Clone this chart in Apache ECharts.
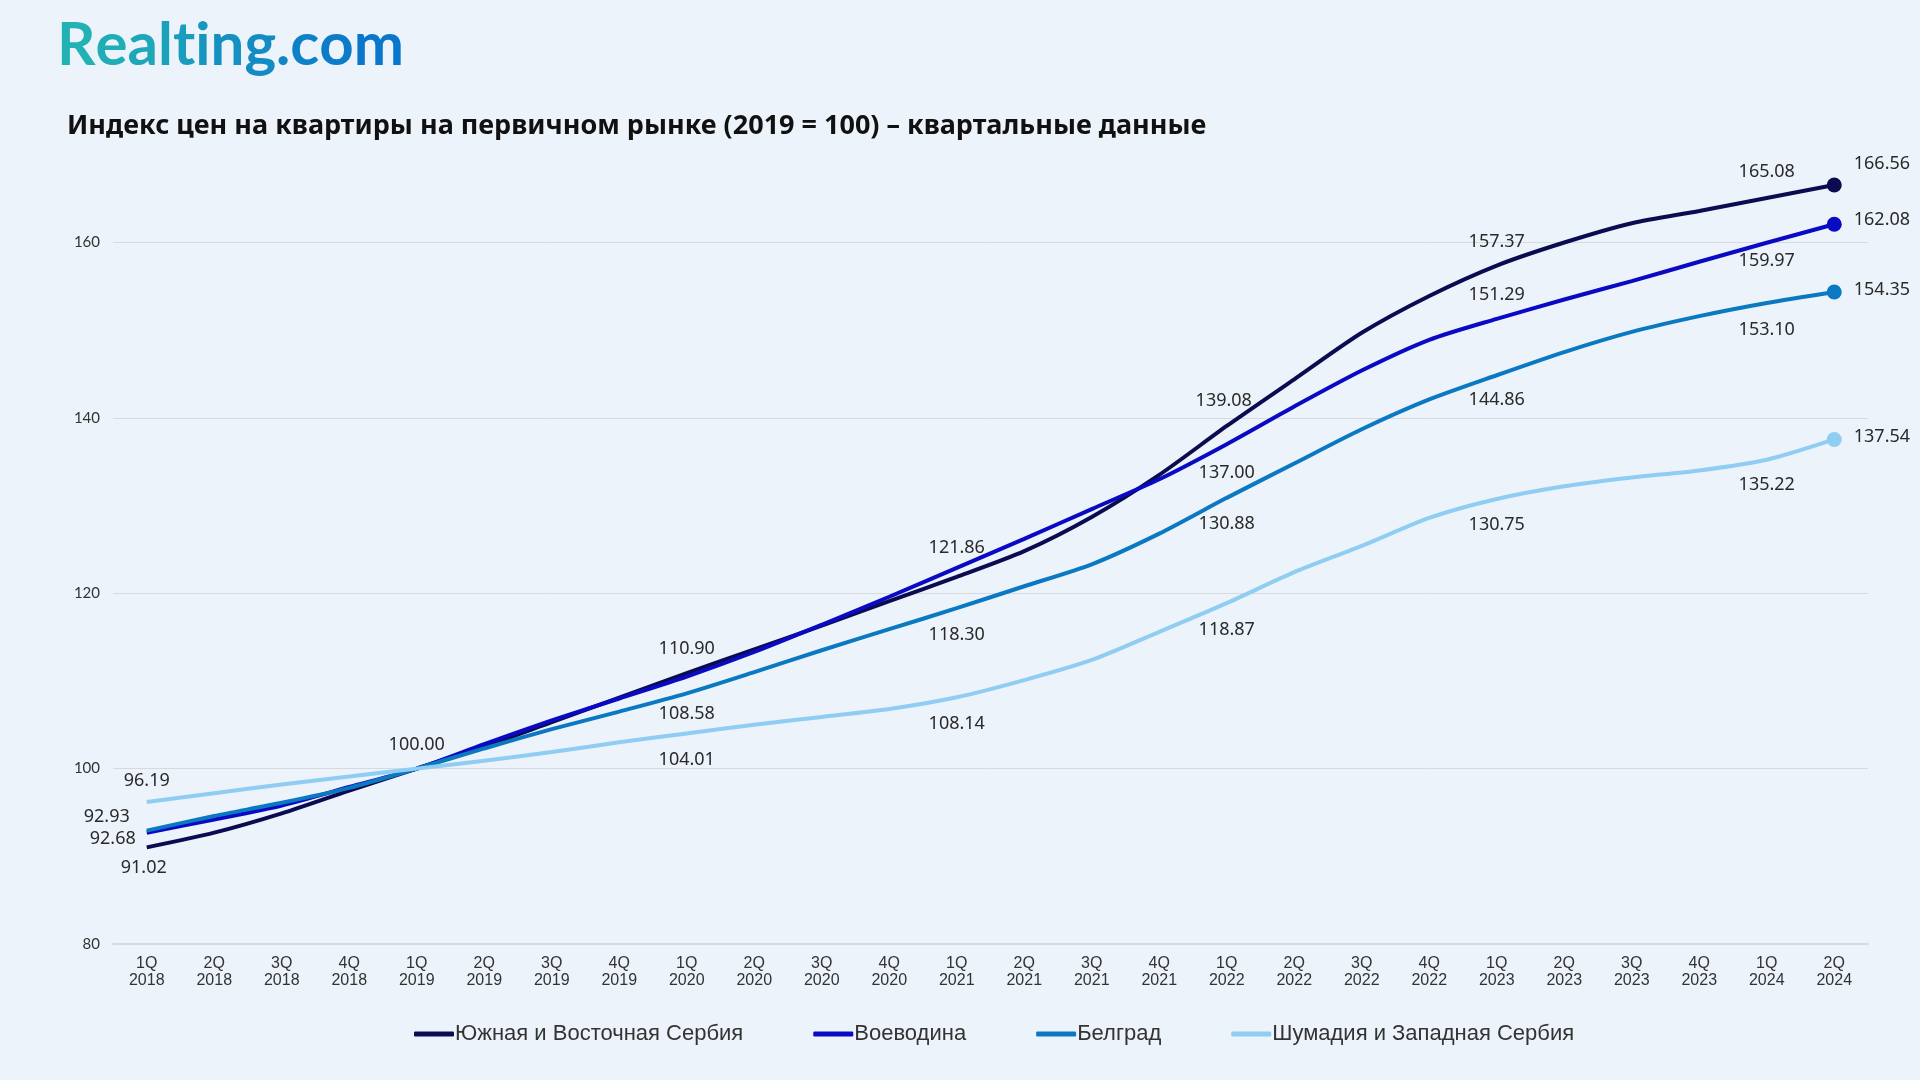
<!DOCTYPE html>
<html>
<head>
<meta charset="utf-8">
<script src="https://cdn.jsdelivr.net/npm/echarts@6/dist/echarts.min.js"></script>
<style>
html,body{margin:0;padding:0;background:#edf3fa;}
#chart{width:1920px;height:1080px;}
</style>
</head>
<body>
<div id="chart"></div>
<script>
const categories = ["1Q 2018","2Q 2018","3Q 2018","4Q 2018","1Q 2019","2Q 2019","3Q 2019","4Q 2019","1Q 2020","2Q 2020","3Q 2020","4Q 2020","1Q 2021","2Q 2021","3Q 2021","4Q 2021","1Q 2022","2Q 2022","3Q 2022","4Q 2022","1Q 2023","2Q 2023","3Q 2023","4Q 2023","1Q 2024","2Q 2024"];
const seriesNames = ["Южная и Восточная Сербия","Воеводина","Белград","Шумадия и Западная Сербия"];
const southEast = [91.02,92.7,94.9,97.5,100.00,102.5,105.3,108.1,110.90,113.6,116.3,119.1,121.86,124.8,128.7,133.5,139.08,144.4,149.7,153.9,157.37,160.0,162.2,163.6,165.08,166.56];
const vojvodina = [92.68,94.2,95.8,97.9,100.00,102.8,105.5,108.0,110.5,113.3,116.4,119.6,122.9,126.2,129.6,133.0,137.00,141.3,145.4,148.9,151.29,153.5,155.6,157.8,159.97,162.08];
const belgrade = [92.93,94.6,96.1,97.8,100.00,102.3,104.5,106.5,108.58,111.0,113.5,115.9,118.30,120.8,123.3,126.8,130.88,134.8,138.7,142.1,144.86,147.5,149.8,151.6,153.10,154.35];
const sumadija = [96.19,97.2,98.2,99.1,100.00,100.9,101.9,103.0,104.01,105.0,105.9,106.8,108.14,110.1,112.4,115.6,118.87,122.4,125.4,128.6,130.75,132.2,133.2,134.0,135.22,137.54];
const yTicks = [80,100,120,140,160];

const colors = ["#0b0b52","#0a0ac4","#0b78c2","#8fcdf3"];
const seriesValues = [southEast, vojvodina, belgrade, sumadija];

// label placement per series: dataIndex -> [position, distance, offsetX, offsetY]
const labelPlacement = [
  {0:['bottom',12,-3,0],4:['top',15,0,0],8:['top',15,0,0],12:['top',20,0,0],16:['top',16,-3,0],20:['top',15,0,0],24:['top',17,0,0],25:['right',12,0,-21]},
  {0:['left',11,0,6],16:['bottom',20,0,0],20:['top',15,0,0],24:['bottom',9,0,0],25:['right',12,0,-4]},
  {0:['left',17,0,-14],8:['bottom',11,0,0],12:['bottom',18,0,0],16:['bottom',17,0,0],20:['bottom',16,0,0],24:['bottom',18,0,0],25:['right',12,0,-2]},
  {0:['top',12,0,0],8:['bottom',17,0,0],12:['bottom',18,0,0],16:['bottom',18,0,0],20:['bottom',17,0,0],24:['bottom',16,0,0],25:['right',12,0,-3]}
];

const labelFont = {fontFamily:'Noto Sans', fontSize:18, color:'#2a2a2a'};

const series = seriesValues.map((vals, si) => ({
  name: seriesNames[si],
  type: 'line',
  smooth: 0.25,
  clip: false,
  color: colors[si],
  lineStyle: {width: 4, color: colors[si]},
  symbol: 'circle',
  showSymbol: true,
  emphasis: {disabled: true},
  data: vals.map((v, i) => {
    const lp = labelPlacement[si][i];
    const last = i === vals.length - 1;
    return {
      value: v,
      symbolSize: last ? 15 : 0,
      label: lp ? Object.assign({
        show: true,
        position: lp[0],
        distance: lp[1],
        offset: [lp[2], lp[3]],
        formatter: p => Number(p.value).toFixed(2)
      }, labelFont) : {show: false}
    };
  })
}));

// logo: per-letter colour ramp from teal to blue
const logoText = 'Realting.com';
const logoFrom = [0x22, 0xb2, 0xb4], logoTo = [0x0a, 0x76, 0xcc];
const logoRich = {};
let logoStr = '';
for (let i = 0; i < logoText.length; i++) {
  const t = i / (logoText.length - 1);
  const c = logoFrom.map((a, k) => Math.round(a + (logoTo[k] - a) * t));
  logoRich['c' + i] = {font: 'bold 60px Lato', fill: 'rgb(' + c.join(',') + ')'};
  logoStr += '{c' + i + '|' + logoText[i] + '}';
}

const chart = echarts.init(document.getElementById('chart'));
chart.setOption({
  backgroundColor: '#edf3fa',
  animation: false,
  graphic: [
    {
      type: 'text', x: 57, y: 16,
      style: {
        text: logoStr,
        rich: logoRich,
        font: 'bold 60px Lato'
      }
    },
    {
      type: 'text', x: 67, y: 113,
      style: {
        text: 'Индекс цен на квартиры на первичном рынке (2019 = 100) – квартальные данные',
        font: 'bold 27px "Noto Sans"',
        fill: '#111111'
      }
    }
  ],
  legend: {
    data: seriesNames,
    left: 409,
    top: 1018,
    icon: 'roundRect',
    itemWidth: 40,
    itemHeight: 5,
    itemGap: 70,
    textStyle: {fontFamily: '"Liberation Sans Narrow", "Liberation Sans"', fontSize: 22, color: '#333333', padding: [0,0,0,-4]}
  },
  grid: {left: 113, right: 52, top: 242.5, bottom: 136, containLabel: false, outerBoundsMode: 'none'},
  xAxis: {
    type: 'category',
    data: categories,
    boundaryGap: true,
    axisLine: {lineStyle: {color: '#d6d9de', width: 2}},
    axisTick: {show: false},
    axisLabel: {
      interval: 0,
      margin: 11,
      fontFamily: '"Liberation Sans Narrow", "Liberation Sans"',
      fontSize: 16,
      lineHeight: 17,
      color: '#333333',
      formatter: v => v.replace(' ', '\n')
    }
  },
  yAxis: {
    type: 'value',
    min: yTicks[0],
    max: yTicks[yTicks.length - 1],
    interval: 20,
    axisLine: {show: false},
    axisTick: {show: false},
    splitLine: {lineStyle: {color: '#d6d9de', width: 1}},
    axisLabel: {margin: 13, fontFamily: 'Lato', fontSize: 15, color: '#333333'}
  },
  series: series
});
</script>
</body>
</html>
